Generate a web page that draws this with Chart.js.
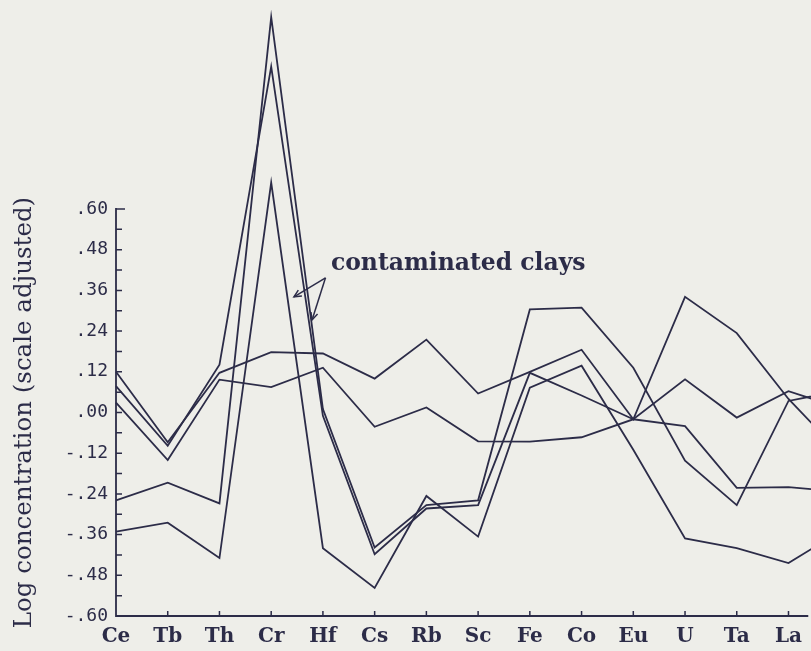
<!DOCTYPE html>
<html><head><meta charset="utf-8">
<script src="https://cdn.jsdelivr.net/npm/chart.js@4.4.1/dist/chart.umd.min.js"></script>
<style>
html,body{margin:0;padding:0;background:#eeeee9;overflow:hidden;}
#wrap{position:relative;width:811px;height:651px;}
canvas{display:block;}
</style></head><body>
<div id="wrap"><canvas id="c" width="811" height="651"></canvas></div>
<script>
// ---- data ----
const categories = ['Ce','Tb','Th','Cr','Hf','Cs','Rb','Sc','Fe','Co','Eu','U','Ta','La',''];
const sample1 = [0.120, -0.088, 0.117, 0.178, 0.174, 0.100, 0.215, 0.056, 0.120, 0.185, -0.020, 0.341, 0.234, 0.040, -0.120];
const sample2 = [0.029, -0.140, 0.097, 0.075, 0.132, -0.042, 0.015, -0.085, -0.086, -0.073, -0.020, -0.040, -0.222, -0.220, -0.233];
const sample3 = [0.078, -0.098, 0.141, 1.020, -0.010, -0.418, -0.283, -0.273, 0.117, 0.050, -0.020, 0.098, -0.015, 0.063, 0.013];
const sample4 = [-0.259, -0.207, -0.268, 1.166, 0.010, -0.398, -0.273, -0.259, 0.304, 0.309, 0.132, -0.142, -0.273, 0.034, 0.064];
const sample5 = [-0.351, -0.325, -0.429, 0.678, -0.400, -0.517, -0.246, -0.366, 0.073, 0.138, -0.110, -0.371, -0.400, -0.444, -0.350];
const yTickValues = [0.60, 0.48, 0.36, 0.24, 0.12, 0.00, -0.12, -0.24, -0.36, -0.48, -0.60];
const yTickLabels = ['.60', '.48', '.36', '.24', '.12', '.00', '-.12', '-.24', '-.36', '-.48', '-.60'];
const yTitle = 'Log concentration (scale adjusted)';
const noteText = 'contaminated clays';

// ---- styling / layout ----
const INK = '#2c2c48';
const note = { textStart: {x: 4.154, y: 0.421}, textEnd: 9.077, arrowFrom: {x: 4.05, y: 0.397},
               arrowsTo: [{x: 3.44, y: 0.341}, {x: 3.79, y: 0.273}] };

const allSeries = [sample1, sample2, sample3, sample4, sample5];
const datasets = allSeries.map(vals => ({
  data: vals.map((v, i) => ({x: i, y: v})),
  borderColor: INK, borderWidth: 1.8, pointRadius: 0, fill: false, tension: 0, clip: false
}));

const axisPlugin = {
  id: 'plotAxes',
  afterDatasetsDraw(chart) {
    const {ctx, chartArea: a, scales: {x, y}} = chart;
    ctx.save();
    ctx.strokeStyle = INK; ctx.lineWidth = 1.8; ctx.lineCap = 'square';
    ctx.beginPath();
    ctx.moveTo(a.left, a.top); ctx.lineTo(a.left, a.bottom); ctx.lineTo(a.right, a.bottom);
    ctx.stroke();
    ctx.lineWidth = 1.5; ctx.lineCap = 'butt';
    ctx.beginPath();
    for (let k = 0; k < yTickValues.length; k++) {
      const v = yTickValues[k];
      const yp = y.getPixelForValue(v);
      const len = k === 0 ? 9 : 6;
      ctx.moveTo(a.left, yp); ctx.lineTo(a.left + len, yp);
      if (k < yTickValues.length - 1) {
        const ym = y.getPixelForValue((v + yTickValues[k + 1]) / 2);
        ctx.moveTo(a.left, ym); ctx.lineTo(a.left + 6, ym);
      }
    }
    for (let i = 1; i < categories.length; i++) {
      const xp = x.getPixelForValue(i);
      if (xp > a.right) break;
      ctx.moveTo(xp, a.bottom); ctx.lineTo(xp, a.bottom - 5);
    }
    ctx.stroke();
    ctx.restore();
  }
};

const notePlugin = {
  id: 'note',
  afterDatasetsDraw(chart) {
    const {ctx, scales: {x, y}} = chart;
    ctx.save();
    const x0 = x.getPixelForValue(note.textStart.x), yb = y.getPixelForValue(note.textStart.y);
    const target = x.getPixelForValue(note.textEnd) - x0;
    ctx.font = 'bold 100px "DejaVu Serif"';
    const size = 100 * target / ctx.measureText(noteText).width;
    ctx.font = 'bold ' + size.toFixed(2) + 'px "DejaVu Serif"';
    ctx.fillStyle = INK; ctx.textBaseline = 'alphabetic'; ctx.textAlign = 'left';
    ctx.fillText(noteText, x0, yb);
    ctx.strokeStyle = INK; ctx.lineWidth = 1.5;
    const fx = x.getPixelForValue(note.arrowFrom.x), fy = y.getPixelForValue(note.arrowFrom.y);
    for (const t of note.arrowsTo) {
      const tx = x.getPixelForValue(t.x), ty = y.getPixelForValue(t.y);
      ctx.beginPath(); ctx.moveTo(fx, fy); ctx.lineTo(tx, ty); ctx.stroke();
      const ang = Math.atan2(ty - fy, tx - fx), h = 8, s = 0.45;
      ctx.beginPath();
      ctx.moveTo(tx - h * Math.cos(ang - s), ty - h * Math.sin(ang - s));
      ctx.lineTo(tx, ty);
      ctx.lineTo(tx - h * Math.cos(ang + s), ty - h * Math.sin(ang + s));
      ctx.stroke();
    }
    ctx.restore();
  }
};

new Chart(document.getElementById('c').getContext('2d'), {
  type: 'line',
  data: {datasets},
  options: {
    responsive: false, animation: false, devicePixelRatio: 1,
    layout: {padding: {top: 209, left: 0, right: 0, bottom: 0}},
    plugins: {legend: {display: false}, tooltip: {enabled: false}},
    scales: {
      x: {
        type: 'linear', min: 0, max: 13.365, bounds: 'data',
        grid: {display: false, drawTicks: false}, border: {display: false},
        afterBuildTicks: s => { s.ticks = categories.map((c, i) => ({value: i})).filter(t => t.value <= s.max); },
        ticks: {callback: v => categories[v] ?? '', font: {family: 'DejaVu Serif', size: 20, weight: 'bold'}, color: INK,
                padding: 9, maxRotation: 0, autoSkip: false},
        afterFit: s => { s.height = 35; }
      },
      y: {
        type: 'linear', min: -0.6, max: 0.6, bounds: 'data',
        grid: {display: false, drawTicks: false}, border: {display: false},
        afterBuildTicks: s => { s.ticks = yTickValues.map(v => ({value: v})); },
        ticks: {callback: (v, i) => yTickLabels[i], font: {family: 'DejaVu Sans Mono', size: 18}, color: INK,
                padding: 8, autoSkip: false},
        title: {display: true, text: yTitle, font: {family: 'DejaVu Serif', size: 24.5}, color: INK,
                padding: {top: 10, bottom: 0}},
        afterFit: s => { s.width = 116; }
      }
    }
  },
  plugins: [axisPlugin, notePlugin]
});
</script>
</body></html>
